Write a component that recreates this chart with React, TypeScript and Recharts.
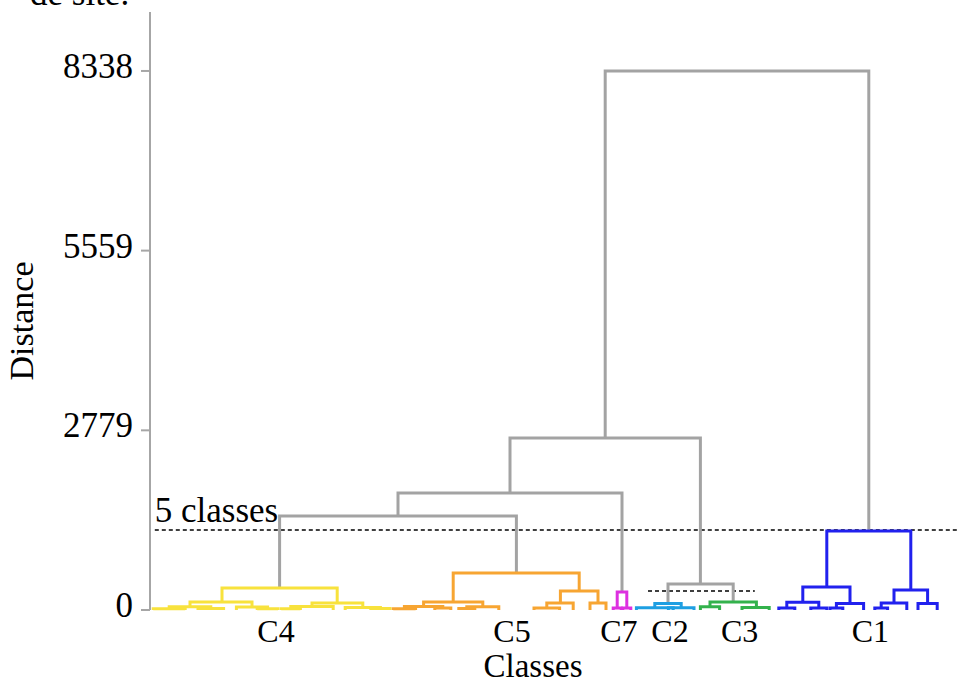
import { ComposedChart, Scatter, XAxis, YAxis, ReferenceLine } from "recharts";

// each link: [x left leg, x right leg, bottom of left leg, bottom of right leg, merge height]
type Link = [number, number, number, number, number];

const yTicks = [0, 2779, 5559, 8338];
const classNames = ["C4", "C5", "C7", "C2", "C3", "C1"];
const classPositions = [15.75, 45.25, 58.6, 65, 73.7, 90.05];
const cutFiveClasses = 1238;
const cutSmall = 294;

const grayLinks: Link[] = [
  [16.2, 45.8, 340, 572, 1454],
  [31.0, 59.0, 1454, 278, 1810],
  [64.75, 72.9, 100, 124, 402],
  [45.0, 68.8, 1810, 402, 2661],
  [56.9, 89.85, 2661, 1222, 8338],
];

const c4Links: Link[] = [
  [9.0, 23.4, 124, 108, 340],
  [5.0, 12.75, 50, 45, 124],
  [2.4, 7.6, 20, 25, 50],
  [0.4, 4.4, 0, 0, 20],
  [6.0, 9.2, 0, 0, 25],
  [10.8, 14.7, 0, 20, 45],
  [13.4, 16.0, 0, 0, 20],
  [20.25, 26.6, 55, 40, 108],
  [17.6, 22.9, 20, 0, 55],
  [16.4, 18.8, 0, 0, 20],
  [24.4, 28.8, 0, 22, 40],
  [27.6, 30.0, 0, 0, 22],
];

const c5Links: Link[] = [
  [37.9, 53.65, 124, 294, 572],
  [34.2, 41.6, 55, 50, 124],
  [31.8, 36.6, 20, 30, 55],
  [30.4, 33.2, 0, 0, 20],
  [35.6, 37.6, 0, 0, 30],
  [39.6, 43.6, 25, 0, 50],
  [38.6, 40.6, 0, 0, 25],
  [51.3, 56.0, 110, 110, 294],
  [49.6, 52.9, 30, 0, 110],
  [48.0, 51.2, 0, 0, 30],
  [55.0, 57.0, 0, 0, 110],
];

const c7Links: Link[] = [
  [58.4, 59.6, 30, 30, 278],
  [57.9, 58.9, 0, 0, 30],
  [59.1, 60.1, 0, 0, 30],
];

const c2Links: Link[] = [
  [63.1, 66.4, 35, 35, 100],
  [60.8, 65.4, 0, 0, 35],
  [64.8, 68.0, 0, 0, 35],
];

const c3Links: Link[] = [
  [70.0, 75.8, 50, 40, 124],
  [68.8, 71.2, 0, 0, 50],
  [74.0, 77.4, 0, 0, 40],
];

const c1Links: Link[] = [
  [84.6, 95.1, 356, 309, 1222],
  [81.6, 87.5, 120, 100, 356],
  [79.6, 83.6, 30, 30, 120],
  [78.6, 80.6, 0, 0, 30],
  [82.6, 84.6, 0, 0, 30],
  [85.8, 89.2, 30, 0, 100],
  [85.0, 86.6, 0, 0, 30],
  [93.0, 97.2, 110, 100, 309],
  [91.4, 94.6, 30, 0, 110],
  [90.6, 92.2, 0, 0, 30],
  [96.0, 98.4, 0, 0, 100],
];

const groups: { links: Link[]; color: string }[] = [
  { links: grayLinks, color: "#a3a3a3" },
  { links: c4Links, color: "#f8e23c" },
  { links: c5Links, color: "#f7a532" },
  { links: c7Links, color: "#dd30e0" },
  { links: c2Links, color: "#1e9fe2" },
  { links: c3Links, color: "#33b24c" },
  { links: c1Links, color: "#2121ee" },
];

const FONT = "Liberation Serif";

const toPoints = ([xl, xr, hl, hr, h]: Link) => [
  { x: xl, y: hl },
  { x: xl, y: h },
  { x: xr, y: h },
  { x: xr, y: hr },
];

const YTick = (props: any) => (
  <text x={props.x} y={props.y + 7} textAnchor="end" fontFamily={FONT} fontSize={35} fill="#000">
    {props.payload.value}
  </text>
);

export default function App() {
  return (
    <div style={{ position: "absolute", left: 0, top: 0, width: 959, height: 684 }}>
      <ComposedChart width={959} height={684} margin={{ top: 12, right: 1, bottom: 0, left: 0 }}>
        <XAxis
          type="number"
          dataKey="x"
          domain={[0, 101]}
          ticks={classPositions}
          tickFormatter={(v: number) => classNames[classPositions.indexOf(v)]}
          axisLine={false}
          tickLine={false}
          tickSize={0}
          tickMargin={9}
          height={74}
          interval={0}
          tick={{ fontFamily: FONT, fontSize: 32, fill: "#000" }}
          label={() => (
            <text x={533} y={677} textAnchor="middle" fontFamily={FONT} fontSize={33} fill="#000">
              Classes
            </text>
          )}
        />
        <YAxis
          type="number"
          dataKey="y"
          domain={[0, 9250]}
          ticks={yTicks}
          width={150}
          tickSize={9}
          tickMargin={8}
          interval={0}
          axisLine={{ stroke: "#a6a6a6", strokeWidth: 2 }}
          tickLine={{ stroke: "#a6a6a6", strokeWidth: 2 }}
          tick={<YTick />}
          label={() => (
            <text
              x={33}
              y={321}
              transform="rotate(-90 33 321)"
              textAnchor="middle"
              fontFamily={FONT}
              fontSize={34}
              fill="#000"
            >
              Distance
            </text>
          )}
        />
        {groups.map((g, gi) =>
          g.links.map((link, li) => (
            <Scatter
              key={`${gi}-${li}`}
              data={toPoints(link)}
              line={{ stroke: g.color, strokeWidth: 3 }}
              lineType="joint"
              shape={() => <g />}
              isAnimationActive={false}
              legendType="none"
            />
          ))
        )}
        <ReferenceLine
          segment={[
            { x: 0.6, y: cutFiveClasses },
            { x: 101, y: cutFiveClasses },
          ]}
          stroke="#000"
          strokeWidth={1.5}
          strokeDasharray="4 3"
          label={(p: any) => (
            <text x={p.viewBox.x} y={p.viewBox.y - 8} fontFamily={FONT} fontSize={35} fill="#000">
              5 classes
            </text>
          )}
        />
        <ReferenceLine
          segment={[
            { x: 62.25, y: cutSmall },
            { x: 75.6, y: cutSmall },
          ]}
          stroke="#000"
          strokeWidth={1.5}
          strokeDasharray="4 3"
        />
      </ComposedChart>
      <svg
        width={959}
        height={684}
        style={{ position: "absolute", left: 0, top: 0, pointerEvents: "none" }}
      >
        <text x={30} y={5} fontFamily={FONT} fontSize={35} fill="#000">
          de site.
        </text>
      </svg>
    </div>
  );
}
